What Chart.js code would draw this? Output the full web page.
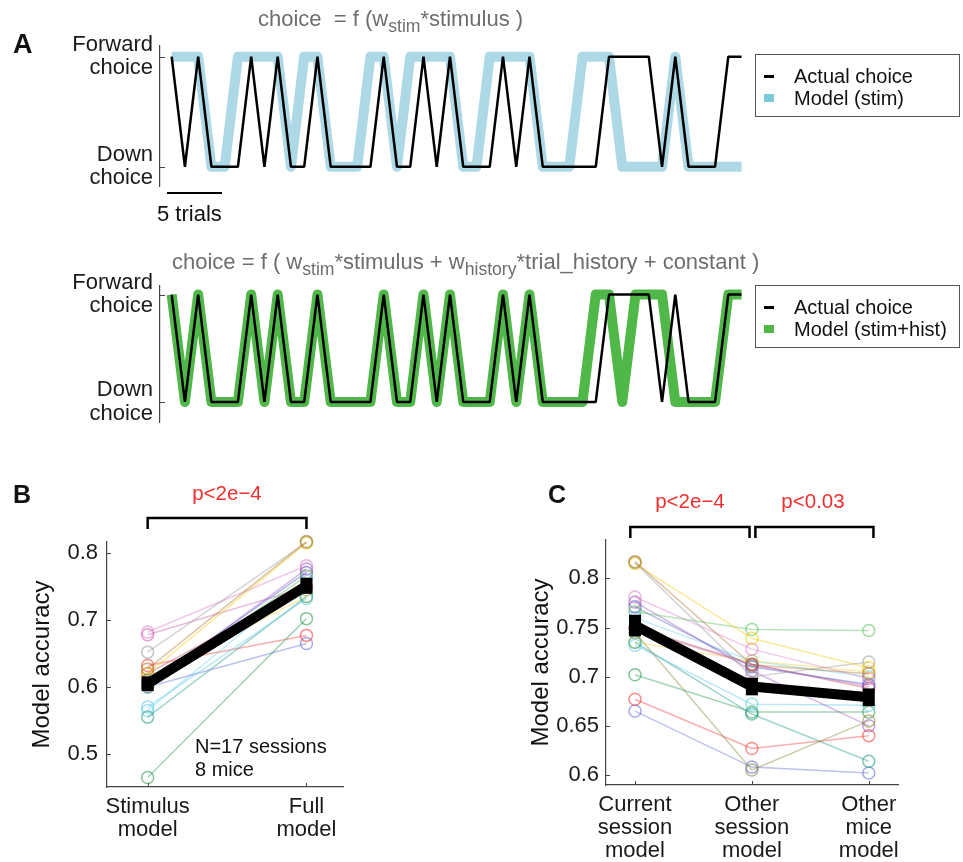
<!DOCTYPE html>
<html>
<head>
<meta charset="utf-8">
<script src="https://cdn.jsdelivr.net/npm/chart.js@4.4.1/dist/chart.umd.min.js"></script>
<style>
  body { margin: 0; background: #fff; }
  #fig { position: relative; width: 963px; height: 862px; overflow: hidden;
         font-family: 'Liberation Sans', Arial, Helvetica, sans-serif; color: #111; }
  #fig canvas { position: absolute; }
  .txt { position: absolute; line-height: 1; white-space: nowrap; }
  .txt sub { font-size: 0.8em; vertical-align: -0.35em; line-height: 0; }
  .legend { position: absolute; left: 755px; width: 205px; height: 63px;
            border: 1.5px solid #555; box-sizing: border-box; font-size: 20px; }
  .legend .row { position: absolute; left: 38px; line-height: 1; transform: translateY(-50%); }
  .legend .swatch { position: absolute; left: -30px; width: 10px; }
</style>
</head>
<body>
<div id="fig">
  <canvas id="choiceStim" width="760" height="215" style="left:0;top:15px"></canvas>
  <canvas id="choiceFull" width="760" height="198" style="left:0;top:255px"></canvas>
  <canvas id="accuracyB" width="360" height="382" style="left:0;top:480px"></canvas>
  <canvas id="accuracyC" width="463" height="382" style="left:500px;top:480px"></canvas>
</div>
<script>
'use strict';
Chart.defaults.font.family = "'Liberation Sans', Arial, Helvetica, sans-serif";
Chart.defaults.color = '#1a1a1a';

// panel A: choices trial by trial (1 = forward, 0 = down)
let trialNumbers = [1, 2, 3, 4, 5, 6, 7, 8, 9, 10, 11, 12, 13, 14, 15, 16, 17, 18, 19, 20, 21, 22,
  23, 24, 25, 26, 27, 28, 29, 30, 31, 32, 33, 34, 35, 36, 37, 38, 39, 40, 41, 42, 43, 44];
let actualChoice = [1, 0, 1, 0, 0, 0, 1, 0, 1, 0, 0, 1, 0, 0, 0, 0, 1, 0, 0, 1, 0, 1,
  0, 0, 0, 1, 0, 1, 0, 0, 0, 0, 0, 1, 1, 1, 1, 0, 1, 0, 0, 0, 1, 1];
let stimModelChoice = [1, 1, 1, 0, 0, 1, 1, 1, 1, 0, 1, 1, 0, 0, 0, 1, 1, 0, 1, 1, 1, 1,
  0, 0, 1, 1, 1, 1, 0, 0, 0, 1, 1, 1, 0, 0, 0, 0, 1, 0, 0, 0, 0, 0];
let fullModelChoice = [1, 0, 1, 0, 0, 0, 1, 0, 1, 0, 0, 1, 0, 0, 0, 0, 1, 0, 0, 1, 0, 1,
  0, 0, 0, 1, 0, 1, 0, 0, 0, 0, 1, 1, 0, 1, 1, 1, 0, 0, 0, 0, 1, 1];
let choiceTicks = [0, 1];
let choiceTickLabels = [['Down', 'choice'], ['Forward', 'choice']];

// panels B and C: model accuracy, one entry per session (17 sessions)
let accStimulus = [0.627, 0.620, 0.652, 0.610, 0.600, 0.682, 0.602, 0.605, 0.570,
  0.555, 0.465, 0.632, 0.600, 0.678, 0.612, 0.620, 0.565];
let accFull = [0.817, 0.815, 0.816, 0.745, 0.766, 0.781, 0.776, 0.771, 0.732,
  0.735, 0.702, 0.677, 0.665, 0.749, 0.735, 0.750, 0.760];
let accOtherSession = [0.712, 0.739, 0.700, 0.605, 0.748, 0.728, 0.706, 0.710, 0.672,
  0.662, 0.664, 0.627, 0.608, 0.712, 0.716, 0.713, 0.716];
let accOtherMice = [0.703, 0.709, 0.715, 0.655, 0.747, 0.698, 0.650, 0.692, 0.671,
  0.614, 0.664, 0.640, 0.602, 0.690, 0.705, 0.688, 0.700];
let meanB = [0.605, 0.751];
let semB = [0.011, 0.012];
let meanC = [0.752, 0.690, 0.679];
let semC = [0.011, 0.009, 0.009];
let categoriesB = [['Stimulus', 'model'], ['Full', 'model']];
let categoriesC = [['Current', 'session', 'model'], ['Other', 'session', 'model'], ['Other', 'mice', 'model']];
let yTicksB = [0.5, 0.6, 0.7, 0.8];
let yTicksC = [0.6, 0.65, 0.7, 0.75, 0.8];

let sessionColors = [
  [170, 110, 40], [240, 200, 0], [150, 150, 150], [130, 130, 50], [80, 190, 80],
  [220, 120, 200], [150, 80, 190], [60, 80, 200], [80, 200, 230], [20, 150, 130],
  [30, 150, 70], [240, 50, 50], [90, 100, 210], [200, 80, 160], [240, 210, 60],
  [190, 70, 80], [100, 210, 240]
];
const AXIS_COLOR = '#444';
const fig = document.getElementById('fig');

function rgba(c, a) {
  return `rgba(${c[0]},${c[1]},${c[2]},${a})`;
}

// inside ticks, error bars, significance brackets, scale bar
const figureExtras = {
  id: 'extras',
  afterDraw(chart, args, opts) {
    const ctx = chart.ctx;
    const area = chart.chartArea;
    const xs = chart.scales.x;
    const ys = chart.scales.y;
    ctx.save();
    ctx.strokeStyle = AXIS_COLOR;
    ctx.lineWidth = 1;
    ys.ticks.forEach(t => {
      const y = Math.round(ys.getPixelForValue(t.value)) + 0.5;
      ctx.beginPath();
      ctx.moveTo(area.left, y);
      ctx.lineTo(area.left + opts.tickLen, y);
      ctx.stroke();
    });
    if (xs.options.display) {
      xs.ticks.forEach(t => {
        const x = Math.round(xs.getPixelForValue(t.value)) + 0.5;
        ctx.beginPath();
        ctx.moveTo(x, area.bottom);
        ctx.lineTo(x, area.bottom - opts.tickLen);
        ctx.stroke();
      });
    }
    if (opts.errors) {
      ctx.strokeStyle = '#000';
      ctx.lineWidth = 12;
      opts.errors.mean.forEach((m, i) => {
        const x = xs.getPixelForValue(i + 1);
        ctx.beginPath();
        ctx.moveTo(x, ys.getPixelForValue(m - opts.errors.err[i]));
        ctx.lineTo(x, ys.getPixelForValue(m + opts.errors.err[i]));
        ctx.stroke();
      });
    }
    if (opts.brackets) {
      ctx.strokeStyle = '#000';
      ctx.lineWidth = 2.5;
      const yTop = area.top - opts.bracketRise;
      opts.brackets.forEach(b => {
        const x0 = xs.getPixelForValue(b[0]);
        const x1 = xs.getPixelForValue(b[1]);
        ctx.beginPath();
        ctx.moveTo(x0, yTop + 11);
        ctx.lineTo(x0, yTop);
        ctx.lineTo(x1, yTop);
        ctx.lineTo(x1, yTop + 11);
        ctx.stroke();
      });
    }
    if (opts.scaleBar) {
      ctx.strokeStyle = '#000';
      ctx.lineWidth = 2;
      const y = area.bottom + 7;
      ctx.beginPath();
      ctx.moveTo(xs.getPixelForValue(opts.scaleBar[0]), y);
      ctx.lineTo(xs.getPixelForValue(opts.scaleBar[1]), y);
      ctx.stroke();
    }
    ctx.restore();
  }
};

function choicePoints(values) {
  return values.map((v, i) => ({x: trialNumbers[i], y: v}));
}

function makeChoiceChart(id, modelLabel, modelValues, modelColor, legendColor, yRange, padding, extras) {
  return new Chart(document.getElementById(id), {
    type: 'line',
    data: {
      datasets: [{
        label: 'Actual choice',
        data: choicePoints(actualChoice),
        borderColor: '#000',
        legendColor: '#000',
        borderWidth: 2.5,
        borderJoinStyle: 'bevel',
        pointRadius: 0,
        clip: false
      }, {
        label: modelLabel,
        data: choicePoints(modelValues),
        borderColor: modelColor,
        legendColor: legendColor,
        borderWidth: 10,
        borderJoinStyle: 'round',
        pointRadius: 0,
        clip: false
      }]
    },
    options: {
      responsive: false,
      animation: false,
      layout: {padding: padding},
      plugins: {legend: {display: false}, tooltip: {enabled: false}, extras: extras},
      scales: {
        x: {type: 'linear', display: false, min: 0.12, max: 44.26},
        y: {
          type: 'linear',
          min: yRange[0],
          max: yRange[1],
          afterFit: s => { s.width = 160; },
          afterBuildTicks: s => { s.ticks = choiceTicks.map(v => ({value: v})); },
          ticks: {
            padding: 7,
            font: {size: 22, lineHeight: 1.05},
            color: '#1a1a1a',
            callback: v => choiceTickLabels[choiceTicks.indexOf(v)]
          },
          grid: {display: false, drawTicks: false},
          border: {display: true, color: AXIS_COLOR, width: 1.2}
        }
      }
    },
    plugins: [figureExtras]
  });
}

function makeAccuracyChart(id, columns, meanValues, semValues, categories, yTicks, cfg) {
  const sessions = sessionColors.map((c, i) => ({
    data: columns.map((col, k) => ({x: k + 1, y: col[i]})),
    borderColor: rgba(c, 0.4),
    borderWidth: 1.5,
    pointRadius: 6,
    pointBorderWidth: 1.5,
    pointBorderColor: rgba(c, 0.55),
    pointBackgroundColor: 'rgba(0,0,0,0)',
    clip: false
  }));
  const mean = {
    data: meanValues.map((m, k) => ({x: k + 1, y: m})),
    borderColor: '#000',
    borderWidth: 10,
    borderJoinStyle: 'bevel',
    pointRadius: 0,
    clip: false
  };
  return new Chart(document.getElementById(id), {
    type: 'line',
    data: {datasets: [mean].concat(sessions)},
    options: {
      responsive: false,
      animation: false,
      layout: {padding: cfg.padding},
      plugins: {
        legend: {display: false},
        tooltip: {enabled: false},
        extras: {tickLen: 4, errors: {mean: meanValues, err: semValues}, brackets: cfg.brackets, bracketRise: cfg.bracketRise}
      },
      scales: {
        x: {
          type: 'linear',
          min: cfg.xRange[0],
          max: cfg.xRange[1],
          afterFit: s => { s.height = cfg.xHeight; },
          afterBuildTicks: s => { s.ticks = categories.map((c, k) => ({value: k + 1})); },
          ticks: {
            padding: 8,
            maxRotation: 0,
            autoSkip: false,
            font: {size: 22, lineHeight: 1.05},
            color: '#1a1a1a',
            callback: (v, i) => categories[i]
          },
          grid: {display: false, drawTicks: false},
          border: {display: true, color: AXIS_COLOR, width: 1.2}
        },
        y: {
          type: 'linear',
          min: cfg.yRange[0],
          max: cfg.yRange[1],
          afterFit: s => { s.width = cfg.yWidth; },
          afterBuildTicks: s => { s.ticks = yTicks.map(v => ({value: v})); },
          ticks: {
            padding: cfg.tickPad,
            font: {size: 22},
            color: '#1a1a1a',
            callback: v => String(v)
          },
          title: {
            display: true,
            text: 'Model accuracy',
            color: '#111',
            font: {size: 24},
            padding: {top: cfg.titlePad, bottom: 0}
          },
          grid: {display: false, drawTicks: false},
          border: {display: true, color: AXIS_COLOR, width: 1.2}
        }
      }
    },
    plugins: [figureExtras]
  });
}

function addText(html, x, y, size, opts) {
  opts = opts || {};
  const el = document.createElement('div');
  el.className = 'txt';
  el.innerHTML = html;
  el.style.left = x + 'px';
  el.style.top = y + 'px';
  el.style.fontSize = size + 'px';
  const shift = {left: '0', center: '-50%', right: '-100%'}[opts.align || 'left'];
  el.style.transform = `translate(${shift}, -50%)`;
  if (opts.color) el.style.color = opts.color;
  if (opts.bold) el.style.fontWeight = 'bold';
  fig.appendChild(el);
}

function addLegend(chart, top) {
  const box = document.createElement('div');
  box.className = 'legend';
  box.style.top = top + 'px';
  chart.data.datasets.forEach((ds, i) => {
    const row = document.createElement('div');
    row.className = 'row';
    row.style.top = (21 + i * 22) + 'px';
    row.textContent = ds.label;
    const sw = document.createElement('span');
    sw.className = 'swatch';
    sw.style.background = ds.legendColor;
    sw.style.height = i === 0 ? '2.5px' : '8px';
    sw.style.top = i === 0 ? '9px' : '6px';
    row.appendChild(sw);
    box.appendChild(row);
  });
  fig.appendChild(box);
}

let chartStim = makeChoiceChart('choiceStim', 'Model (stim)', stimModelChoice, '#add8e6', '#7cc9dc',
  [-0.175, 1.105], {left: 0, top: 25, right: 15, bottom: 44},
  {tickLen: 5, scaleBar: [0.645, 4.8]});
let chartFull = makeChoiceChart('choiceFull', 'Model (stim+hist)', fullModelChoice, '#50b848', '#4fb848',
  [-0.195, 1.088], {left: 0, top: 28, right: 15, bottom: 25},
  {tickLen: 5});
addLegend(chartStim, 54);
addLegend(chartFull, 285);

makeAccuracyChart('accuracyB', [accStimulus, accFull], meanB, semB, categoriesB, yTicksB, {
  padding: {left: 0, top: 62, right: 17, bottom: 0},
  xRange: [0.744, 2.23], yRange: [0.4507, 0.8164],
  xHeight: 75, yWidth: 107, tickPad: 9, titlePad: 28,
  brackets: [[1, 2]], bracketRise: 24
});
makeAccuracyChart('accuracyC', [accFull, accOtherSession, accOtherMice], meanC, semC, categoriesC, yTicksC, {
  padding: {left: 0, top: 60, right: 65, bottom: 0},
  xRange: [0.752, 3.25], yRange: [0.5898, 0.839],
  xHeight: 77, yWidth: 106, tickPad: 7, titlePad: 27,
  brackets: [[0.96, 1.98], [2.03, 3.04]], bracketRise: 13
});

const GREY = '#6e6e6e';
const RED = '#f03030';
addText('A', 13, 44, 27, {bold: true});
addText('choice&nbsp; = f (w<sub>stim</sub>*stimulus )', 258, 19, 22, {color: GREY});
addText('choice = f ( w<sub>stim</sub>*stimulus + w<sub>history</sub>*trial_history + constant )', 172, 262, 22, {color: GREY});
addText('5 trials', 157, 214, 22);
addText('B', 13, 494, 25, {bold: true});
addText('p&lt;2e\u22124', 227, 493, 20.5, {align: 'center', color: RED});
addText('N=17 sessions', 195, 746, 20);
addText('8 mice', 195, 769, 20);
addText('C', 548, 494, 25, {bold: true});
addText('p&lt;2e\u22124', 690, 501, 20.5, {align: 'center', color: RED});
addText('p&lt;0.03', 813, 501, 20.5, {align: 'center', color: RED});
</script>
</body>
</html>
